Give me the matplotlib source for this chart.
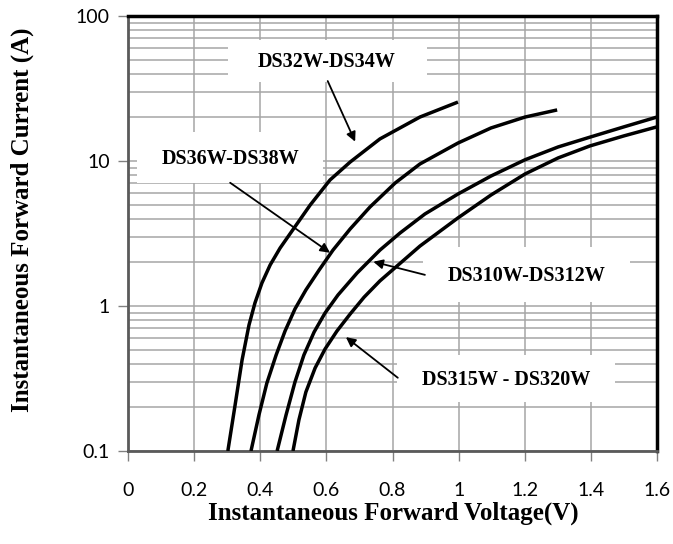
import matplotlib
matplotlib.use("Agg")
import matplotlib.pyplot as plt
from matplotlib.patches import Rectangle
from matplotlib.ticker import LogLocator, FixedLocator, NullFormatter

# ---- data ----
c1_v = [0.302, 0.324, 0.345, 0.366, 0.384, 0.405, 0.430, 0.460, 0.496, 0.551, 0.611, 0.672, 0.762, 0.883, 0.998]
c1_i = [0.100, 0.208, 0.424, 0.740, 1.05, 1.44, 1.92, 2.51, 3.29, 4.97, 7.40, 9.84, 14.2, 20.1, 25.5]

c2_v = [0.372, 0.396, 0.420, 0.448, 0.475, 0.505, 0.538, 0.578, 0.620, 0.672, 0.732, 0.808, 0.883, 0.998, 1.098, 1.201, 1.298]
c2_i = [0.100, 0.177, 0.294, 0.459, 0.672, 0.954, 1.29, 1.77, 2.43, 3.40, 4.82, 7.05, 9.54, 13.3, 16.9, 20.1, 22.5]

c3_v = [0.451, 0.478, 0.505, 0.532, 0.563, 0.596, 0.635, 0.693, 0.762, 0.823, 0.898, 0.998, 1.098, 1.201, 1.301, 1.397, 1.500, 1.600]
c3_i = [0.100, 0.177, 0.299, 0.459, 0.662, 0.895, 1.19, 1.69, 2.43, 3.19, 4.31, 5.92, 7.88, 10.2, 12.5, 14.6, 17.2, 20.1]

c4_v = [0.499, 0.517, 0.538, 0.566, 0.596, 0.632, 0.672, 0.714, 0.762, 0.883, 0.998, 1.098, 1.201, 1.301, 1.397, 1.500, 1.600]
c4_i = [0.100, 0.164, 0.255, 0.374, 0.505, 0.672, 0.881, 1.15, 1.49, 2.59, 4.05, 5.83, 8.14, 10.5, 12.7, 14.9, 17.2]

labels = ["DS32W-DS34W", "DS36W-DS38W", "DS310W-DS312W", "DS315W - DS320W"]
x_ticks = [0, 0.2, 0.4, 0.6, 0.8, 1.0, 1.2, 1.4, 1.6]
x_ticklabels = ["0", "0.2", "0.4", "0.6", "0.8", "1", "1.2", "1.4", "1.6"]
y_ticks = [0.1, 1, 10, 100]
y_ticklabels = ["0.1", "1", "10", "100"]

# ---- figure ----
fig = plt.figure(figsize=(6.73, 5.44), dpi=100)
ax = fig.add_axes([128/673, 1-451/544, 529/673, 435/544])
ax.set_yscale("log")
ax.set_xlim(0, 1.6)
ax.set_ylim(0.1, 100)

ax.xaxis.set_major_locator(FixedLocator(x_ticks))
ax.set_xticklabels(x_ticklabels)
ax.yaxis.set_major_locator(FixedLocator(y_ticks))
ax.set_yticklabels(y_ticklabels)
ax.yaxis.set_minor_locator(LogLocator(base=10, subs=range(2, 10)))
ax.yaxis.set_minor_formatter(NullFormatter())

gc = "#a6a6a6"
ax.grid(True, which="major", color=gc, lw=1.1, zorder=0)
ax.grid(True, which="minor", axis="y", color=gc, lw=1.1, zorder=0)
ax.set_axisbelow(True)

ax.tick_params(axis="y", which="minor", length=0)
ax.tick_params(axis="both", which="major", length=7, width=1, color="#808080",
               labelsize=14)
ax.tick_params(axis="x", pad=15)
ax.tick_params(axis="y", pad=6)
for lab in ax.get_xticklabels() + ax.get_yticklabels():
    lab.set_fontfamily(["Lato", "DejaVu Sans"])

for s in ["top", "right"]:
    ax.spines[s].set_color("black")
    ax.spines[s].set_linewidth(2.5)
for s in ["left", "bottom"]:
    ax.spines[s].set_color("#5a5a5a")
    ax.spines[s].set_linewidth(2.0)

# white label boxes (axes fraction)
boxes = [(0.189, 0.848, 0.376, 0.097),
         (0.017, 0.616, 0.352, 0.117),
         (0.558, 0.343, 0.391, 0.126),
         (0.508, 0.113, 0.413, 0.108)]
for (bx, by, bw, bh) in boxes:
    ax.add_patch(Rectangle((bx, by), bw, bh, transform=ax.transAxes,
                           facecolor="white", edgecolor="none", zorder=1))

for v, i in [(c1_v, c1_i), (c2_v, c2_i), (c3_v, c3_i), (c4_v, c4_i)]:
    ax.plot(v, i, color="black", lw=2.5, zorder=3, solid_capstyle="butt",
            solid_joinstyle="round")

tfont = dict(family=["Liberation Serif", "DejaVu Serif"], weight="bold", size=14.5)
text_pos = [(0.376, 0.895), (0.193, 0.671), (0.754, 0.402), (0.715, 0.163)]
for (tx, ty), lab in zip(text_pos, labels):
    ax.text(tx, ty, lab, transform=ax.transAxes, ha="center", va="center",
            zorder=4, **tfont)

arrows = [((0.604, 35.6), (0.687, 13.6)),
          ((0.309, 7.08), (0.611, 2.33)),
          ((0.898, 1.64), (0.742, 2.02)),
          ((0.816, 0.32), (0.659, 0.61))]
for tail, tip in arrows:
    ax.annotate("", xy=tip, xytext=tail, zorder=4,
                arrowprops=dict(arrowstyle="-|>", color="black", lw=1.3,
                                mutation_scale=14, shrinkA=0, shrinkB=0))

lfont = dict(family=["Liberation Serif", "DejaVu Serif"], weight="bold", size=18)
fig.text(393/673, 1-513/544, "Instantaneous Forward Voltage(V)",
         ha="center", va="center", **lfont)
fig.text(22/673, 1-220/544, "Instantaneous Forward Current (A)", rotation=90,
         ha="center", va="center", **lfont)

fig.savefig("out.png", dpi=100)
